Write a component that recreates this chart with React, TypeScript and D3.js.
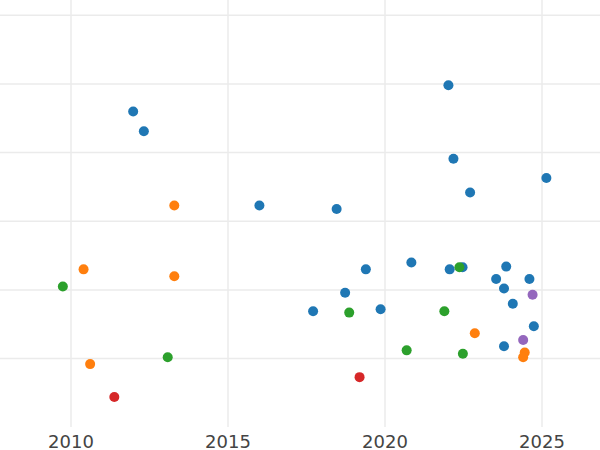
import React from "react";
import * as d3 from "d3";

const xTicks = [2010, 2015, 2020, 2025];
const yTicks = [0, 1, 2, 3, 4, 5];

const blueX = [2011.98, 2012.32, 2016.0, 2018.46, 2022.02, 2022.18, 2022.71, 2025.14, 2017.71, 2018.73, 2019.39, 2019.86, 2020.84, 2022.06, 2022.47, 2023.54, 2023.86, 2023.79, 2024.07, 2024.6, 2024.74, 2023.79];
const blueY = [3.6, 3.31, 2.23, 2.18, 3.98, 2.91, 2.42, 2.63, 0.69, 0.96, 1.3, 0.72, 1.4, 1.3, 1.33, 1.16, 1.34, 1.02, 0.8, 1.16, 0.47, 0.18];
const orangeX = [2013.29, 2010.4, 2013.29, 2010.61, 2022.86, 2024.45, 2024.4];
const orangeY = [2.23, 1.3, 1.2, -0.08, 0.37, 0.09, 0.02];
const greenX = [2009.74, 2013.08, 2018.86, 2020.69, 2022.37, 2021.89, 2022.48];
const greenY = [1.05, 0.02, 0.67, 0.12, 1.33, 0.69, 0.07];
const redX = [2011.38, 2019.19];
const redY = [-0.56, -0.27];
const purpleX = [2024.7, 2024.4];
const purpleY = [0.93, 0.27];

const seriesList = [
  { name: "A", color: "#1f77b4", xs: blueX, ys: blueY },
  { name: "B", color: "#ff7f0e", xs: orangeX, ys: orangeY },
  { name: "C", color: "#2ca02c", xs: greenX, ys: greenY },
  { name: "D", color: "#d62728", xs: redX, ys: redY },
  { name: "E", color: "#9467bd", xs: purpleX, ys: purpleY },
];

export default function App() {
  const W = 600;
  const H = 450;
  const plotBottom = 427;
  const x = d3.scaleLinear().domain([2010, 2025]).range([71, 542]);
  const y = d3.scaleLinear().domain([0, 5]).range([358.6, 15.3]);
  return (
    <svg
      width={W}
      height={H}
      style={{ position: "absolute", left: 0, top: 0, background: "#fff" }}
    >
      <g>
        {yTicks.map((t) => (
          <line key={"y" + t} x1={0} x2={W} y1={y(t)} y2={y(t)} stroke="#ebebeb" strokeWidth={1.5} />
        ))}
        {xTicks.map((t) => (
          <line key={"x" + t} x1={x(t)} x2={x(t)} y1={0} y2={plotBottom} stroke="#ebebeb" strokeWidth={1.5} />
        ))}
      </g>
      <g>
        {seriesList.map((s) =>
          s.xs.map((xv, i) => (
            <circle key={s.name + i} cx={x(xv)} cy={y(s.ys[i])} r={5} fill={s.color} />
          ))
        )}
      </g>
      <g fontFamily="DejaVu Sans" fontSize={18} fill="#444">
        {xTicks.map((t) => (
          <text key={"t" + t} x={x(t)} y={447.5} textAnchor="middle">
            {t}
          </text>
        ))}
      </g>
    </svg>
  );
}
